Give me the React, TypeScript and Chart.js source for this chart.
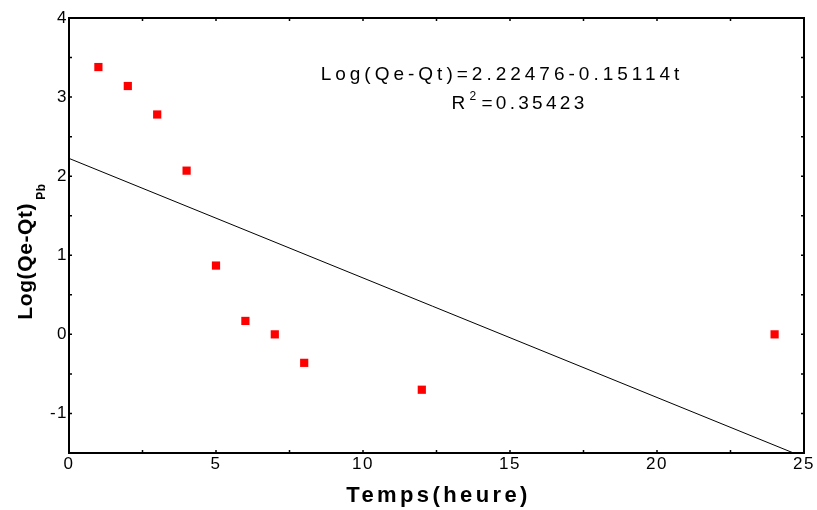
import React, { useEffect, useRef } from "react";
import { Chart, registerables } from "chart.js";

Chart.register(...registerables);

const timeHours = [1, 2, 3, 4, 5, 6, 7, 8, 12, 24];
const logValues = [3.38, 3.14, 2.78, 2.07, 0.87, 0.17, 0.0, -0.36, -0.7, 0.0];
const fitIntercept = 2.22476;
const fitSlope = -0.15114;
const xTickValues = [0, 5, 10, 15, 20, 25];
const yTickValues = [-1, 0, 1, 2, 3, 4];
const equationText = "Log(Qe-Qt)=2.22476-0.15114t";
const r2Value = "=0.35423";
const xTitle = "Temps(heure)";
const yTitleMain = "Log(Qe-Qt)";
const yTitleSub = "Pb";

const FONT = "'Liberation Sans', Arial, sans-serif";

export default function App() {
  const ref = useRef<HTMLCanvasElement | null>(null);

  useEffect(() => {
    const canvas = ref.current;
    if (!canvas) return;

    const overlay = {
      id: "overlay",
      beforeDraw(chart: any) {
        (chart.ctx as any).letterSpacing = "1.5px";
      },
      afterDraw(chart: any) {
        const ctx = chart.ctx as any;
        const a = chart.chartArea;
        const xs = chart.scales.x;
        const ys = chart.scales.y;
        ctx.save();
        // frame
        ctx.strokeStyle = "#000";
        ctx.lineWidth = 2;
        ctx.strokeRect(a.left, a.top, a.right - a.left, a.bottom - a.top);
        // ticks
        ctx.lineWidth = 1.5;
        ctx.beginPath();
        for (let v = 0; v <= 25; v += 2.5) {
          const px = xs.getPixelForValue(v);
          ctx.moveTo(px, a.bottom);
          ctx.lineTo(px, a.bottom - 3);
          ctx.moveTo(px, a.top);
          ctx.lineTo(px, a.top + 3);
        }
        for (let v = -1.5; v <= 4; v += 0.5) {
          const py = ys.getPixelForValue(v);
          ctx.moveTo(a.left, py);
          ctx.lineTo(a.left + 3, py);
          ctx.moveTo(a.right, py);
          ctx.lineTo(a.right - 3, py);
        }
        ctx.stroke();

        ctx.fillStyle = "#000";
        // equation annotation
        ctx.letterSpacing = "4px";
        ctx.font = `19px ${FONT}`;
        ctx.textAlign = "center";
        ctx.textBaseline = "alphabetic";
        ctx.fillText(equationText, 502, 80);
        // R^2
        ctx.letterSpacing = "3.3px";
        ctx.textAlign = "left";
        const rW = ctx.measureText("R").width;
        ctx.font = `12px ${FONT}`;
        const sW = ctx.measureText("2").width;
        ctx.font = `19px ${FONT}`;
        const restW = ctx.measureText(r2Value).width;
        const total = rW + sW + 2 + restW;
        const x0 = 519 - total / 2;
        ctx.fillText("R", x0, 109);
        ctx.font = `12px ${FONT}`;
        ctx.fillText("2", x0 + rW + 1, 100);
        ctx.font = `19px ${FONT}`;
        ctx.fillText(r2Value, x0 + rW + sW + 3, 109);

        // x title
        ctx.letterSpacing = "3.4px";
        ctx.font = `bold 22px ${FONT}`;
        ctx.textAlign = "center";
        ctx.fillText(xTitle, (a.left + a.right) / 2 + 2, 502);

        // y title rotated
        ctx.translate(32, 251);
        ctx.rotate(-Math.PI / 2);
        ctx.letterSpacing = "0.6px";
        ctx.font = `bold 21px ${FONT}`;
        const mW = ctx.measureText(yTitleMain).width;
        ctx.font = `bold 12px ${FONT}`;
        const pW = ctx.measureText(yTitleSub).width;
        const start = -(mW + pW + 4) / 2;
        ctx.textAlign = "left";
        ctx.font = `bold 21px ${FONT}`;
        ctx.fillText(yTitleMain, start, 0);
        ctx.font = `bold 12px ${FONT}`;
        ctx.fillText(yTitleSub, start + mW + 3, 13);
        ctx.restore();
      },
    };

    const chart = new Chart(canvas, {
      type: "scatter",
      data: {
        datasets: [
          {
            type: "line",
            label: "fit",
            data: [
              { x: 0, y: fitIntercept },
              { x: 25, y: fitIntercept + fitSlope * 25 },
            ],
            borderColor: "#000",
            borderWidth: 1,
            pointRadius: 0,
            fill: false,
          } as any,
          {
            label: "data",
            data: timeHours.map((t, i) => ({ x: t, y: logValues[i] })),
            backgroundColor: "#ff0000",
            borderColor: "#ff0000",
            borderWidth: 0,
            pointStyle: "rect",
            pointRadius: 5.8,
          },
        ],
      },
      options: {
        responsive: false,
        animation: false,
        devicePixelRatio: 1,
        layout: { padding: { left: 0, right: 13, top: 18, bottom: 0 } },
        plugins: { legend: { display: false }, tooltip: { enabled: false } },
        scales: {
          x: {
            type: "linear",
            min: 0,
            max: 25,
            grid: { display: false, drawTicks: false },
            border: { display: false },
            afterBuildTicks: (s: any) => {
              s.ticks = xTickValues.map((v) => ({ value: v }));
            },
            afterFit: (s: any) => {
              s.height = 57;
            },
            ticks: {
              autoSkip: false,
              maxRotation: 0,
              padding: 1,
              color: "#000",
              font: { family: FONT, size: 17 },
            },
          },
          y: {
            type: "linear",
            min: -1.5,
            max: 4,
            grid: { display: false, drawTicks: false },
            border: { display: false },
            afterBuildTicks: (s: any) => {
              s.ticks = yTickValues.map((v) => ({ value: v }));
            },
            afterFit: (s: any) => {
              s.width = 69;
            },
            ticks: {
              autoSkip: false,
              padding: 1,
              color: "#000",
              font: { family: FONT, size: 17 },
            },
          },
        },
      },
      plugins: [overlay],
    });

    return () => chart.destroy();
  }, []);

  return (
    <div style={{ position: "fixed", left: 0, top: 0, width: 817, height: 510, background: "#fff" }}>
      <canvas ref={ref} width={817} height={510} style={{ width: 817, height: 510, display: "block" }} />
    </div>
  );
}
